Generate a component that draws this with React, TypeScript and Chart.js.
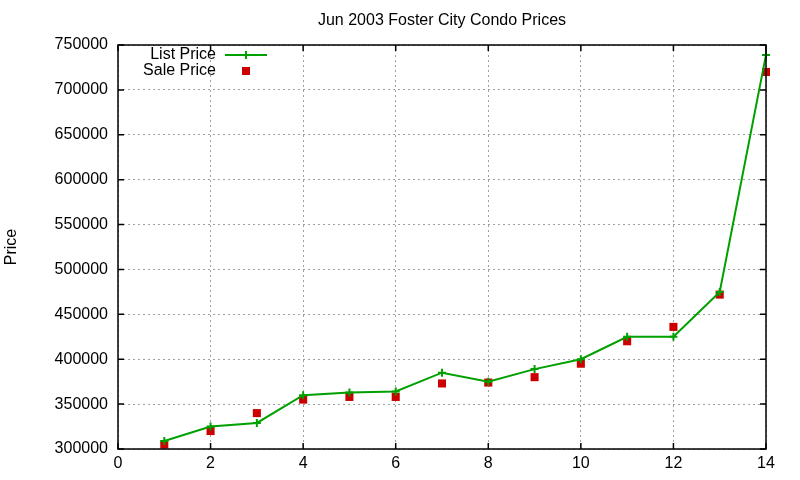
import Chart from "chart.js/auto";
import { useEffect, useRef } from "react";

const units = [1, 2, 3, 4, 5, 6, 7, 8, 9, 10, 11, 12, 13, 14];
const listPrices = [
  309000, 325000, 329000, 360000, 363000, 364000, 385000, 375000, 389000,
  400000, 425000, 425000, 475000, 739000,
];
const salePrices = [
  305000, 320000, 340000, 355000, 358000, 358000, 373000, 374000, 380000,
  395000, 420000, 436000, 472000, 720000,
];

const GREEN = "#00a000";
const RED = "#cc0000";
const FONT = "'Liberation Sans', Arial, sans-serif";
const TITLE = "Jun 2003 Foster City Condo Prices";

// gnuplot style frame: black box with inward ticks on all four sides
const framePlugin = {
  id: "frame",
  afterDatasetsDraw(chart: any) {
    const { ctx, chartArea: a, scales } = chart;
    const len = 6;
    ctx.save();
    ctx.strokeStyle = "#000";
    ctx.lineWidth = 1.5;
    ctx.strokeRect(a.left, a.top, a.right - a.left, a.bottom - a.top);
    ctx.beginPath();
    for (const t of scales.x.ticks) {
      const px = scales.x.getPixelForValue(t.value);
      ctx.moveTo(px, a.bottom);
      ctx.lineTo(px, a.bottom - len);
      ctx.moveTo(px, a.top);
      ctx.lineTo(px, a.top + len);
    }
    for (const t of scales.y.ticks) {
      const py = scales.y.getPixelForValue(t.value);
      ctx.moveTo(a.left, py);
      ctx.lineTo(a.left + len, py);
      ctx.moveTo(a.right, py);
      ctx.lineTo(a.right - len, py);
    }
    ctx.stroke();
    ctx.restore();
  },
};

// title centred over the plot area, as gnuplot does
const titlePlugin = {
  id: "plotTitle",
  afterDraw(chart: any) {
    const { ctx, chartArea: a } = chart;
    ctx.save();
    ctx.font = `16px ${FONT}`;
    ctx.fillStyle = "#000";
    ctx.textAlign = "center";
    ctx.textBaseline = "middle";
    ctx.fillText(TITLE, (a.left + a.right) / 2, 21);
    ctx.restore();
  },
};

// legend inside the plot, top left, text right-aligned before the sample
const keyPlugin = {
  id: "key",
  afterDatasetsDraw(chart: any) {
    const { ctx } = chart;
    const textRight = 216;
    const sampleX = 246;
    const rows = [55, 71];
    ctx.save();
    ctx.font = `16px ${FONT}`;
    ctx.fillStyle = "#000";
    ctx.textAlign = "right";
    ctx.textBaseline = "middle";
    chart.data.datasets.forEach((ds: any, i: number) => {
      const y = rows[i];
      ctx.fillText(ds.label, textRight, y);
      if (i === 0) {
        ctx.strokeStyle = GREEN;
        ctx.lineWidth = 2;
        ctx.beginPath();
        ctx.moveTo(225, y);
        ctx.lineTo(267, y);
        ctx.moveTo(sampleX, y - 4);
        ctx.lineTo(sampleX, y + 4);
        ctx.stroke();
      } else {
        ctx.fillStyle = RED;
        ctx.fillRect(sampleX - 4, y - 4, 8, 8);
        ctx.fillStyle = "#000";
      }
    });
    ctx.restore();
  },
};

export default function App() {
  const chartRef = useRef<HTMLCanvasElement>(null);

  useEffect(() => {
    Chart.defaults.font.family = FONT;
    Chart.defaults.color = "#000";

    const chart = new Chart(chartRef.current!, {
      type: "line",
      data: {
        datasets: [
          {
            label: "List Price",
            data: units.map((u, i) => ({ x: u, y: listPrices[i] })),
            borderColor: GREEN,
            backgroundColor: GREEN,
            borderWidth: 2,
            pointStyle: "cross",
            pointRadius: 4,
            pointBorderWidth: 2,
            tension: 0,
            clip: false,
          },
          {
            label: "Sale Price",
            data: units.map((u, i) => ({ x: u, y: salePrices[i] })),
            showLine: false,
            borderColor: RED,
            backgroundColor: RED,
            pointStyle: "rect",
            pointRadius: 5.7,
            pointBorderWidth: 0,
            clip: false,
          },
        ],
      },
      options: {
        animation: false,
        responsive: true,
        maintainAspectRatio: false,
        layout: { padding: { left: 0, right: 34, top: 45, bottom: 0 } },
        plugins: {
          legend: { display: false },
          tooltip: { enabled: false },
          title: { display: false },
        },
        scales: {
          x: {
            type: "linear",
            min: 0,
            max: 14,
            ticks: {
              stepSize: 2,
              font: { size: 16 },
              padding: 5,
              callback: (v: any) => String(v),
            },
            grid: {
              color: "#a0a0a0",
              lineWidth: 1,
              drawTicks: false,
            },
            border: { display: false, dash: [2, 3] },
            afterFit: (scale: any) => {
              scale.height = 31;
            },
          },
          y: {
            min: 300000,
            max: 750000,
            ticks: {
              stepSize: 50000,
              font: { size: 16 },
              padding: 10,
              callback: (v: any) => String(v),
            },
            grid: {
              color: "#a0a0a0",
              lineWidth: 1,
              drawTicks: false,
            },
            border: { display: false, dash: [2, 3] },
            title: {
              display: true,
              text: "Price",
              font: { size: 16 },
              padding: { top: 2, bottom: 0 },
            },
            afterFit: (scale: any) => {
              scale.width = 118;
            },
          },
        },
      },
      plugins: [framePlugin, keyPlugin, titlePlugin],
    });

    return () => chart.destroy();
  }, []);

  return (
    <div
      style={{
        position: "fixed",
        left: 0,
        top: 0,
        width: 800,
        height: 480,
        background: "#fff",
      }}
    >
      <canvas ref={chartRef}></canvas>
    </div>
  );
}
